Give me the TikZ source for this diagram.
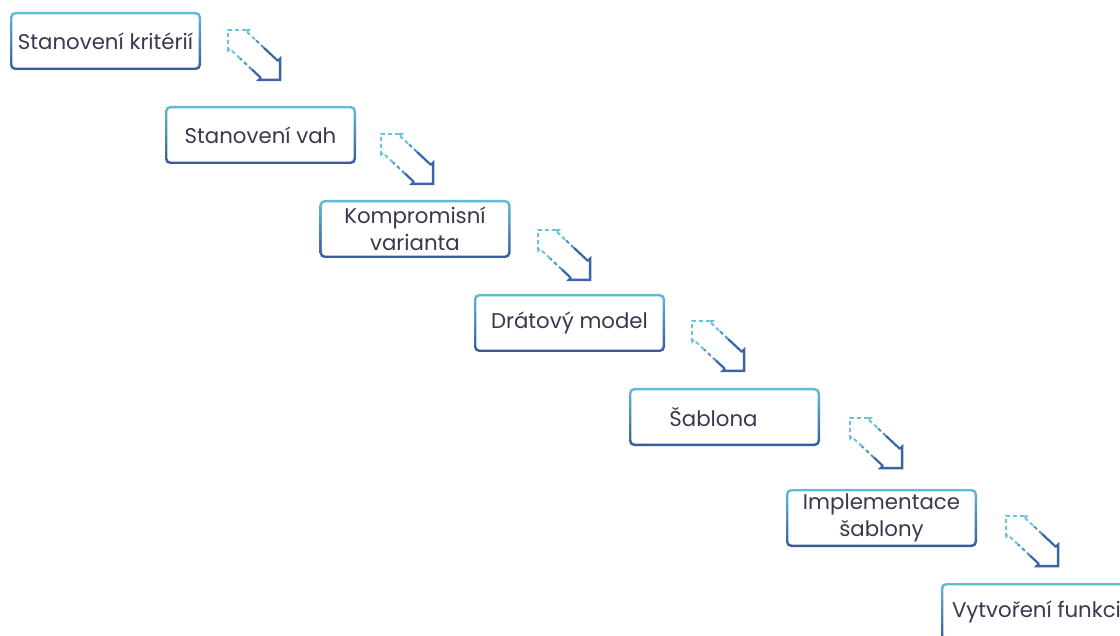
\documentclass[tikz,border=0pt]{standalone}
\usepackage{fontspec}
\setmainfont{Poppins}
\usetikzlibrary{calc}

\definecolor{edgetop}{HTML}{5EBED4}
\definecolor{edgebot}{HTML}{39599C}
\definecolor{labelcol}{HTML}{3A3850}
\definecolor{arrlight}{HTML}{6CC4D9}
\definecolor{arrmid}{HTML}{4E95C4}
\definecolor{arrdark}{HTML}{3B63A8}

\tikzset{
  stepbox/.style={
    minimum width=191pt, minimum height=58pt, inner sep=0pt,
    rounded corners=5pt, align=center, text=labelcol,
    font=\fontsize{21.3}{27}\selectfont,
    path picture={
      \shade[top color=edgetop, bottom color=edgebot]
        (path picture bounding box.south west) rectangle (path picture bounding box.north east);
      \fill[white, rounded corners=3.5pt]
        ([shift={(2.4pt,2.4pt)}]path picture bounding box.south west) rectangle
        ([shift={(-2.4pt,-2.4pt)}]path picture bounding box.north east);
    }
  },
  arrline/.style={line width=2.2pt, line cap=butt, line join=miter},
  arrdash/.style={arrline, line width=2pt, dash pattern=on 4pt off 3pt},
  flowarrow/.pic={
    % tail end (faded, dashed)
    \draw[arrdash, arrlight] (0,21) -- (0,0) -- (21,0);
    \draw[arrline, arrlight, line width=1.5pt] (18,0) -- (21,0) -- (19,2);
    \draw[arrline, arrlight, line width=1.5pt] (0,18) -- (0,21) -- (2,19);
    % upper side of the shaft
    \draw[arrdash, arrlight] (19,2) -- (28,10.4);
    \draw[arrdash, arrmid] (28,10.4) -- (36,17.9);
    \draw[arrline, arrdark] (36,17.9) -- (50,31);
    % head with short barbs
    \draw[arrline, arrdark, line width=2.5pt] (50,31) -- (52,29) -- (52,50) -- (31,50) -- (33,48);
    % lower side of the shaft
    \draw[arrline, arrdark] (33,48) -- (24,39.6);
    \draw[arrdash, arrmid] (24,39.6) -- (12,28.4);
    \draw[arrdash, arrlight] (12,28.4) -- (2,19);
  }
}

\begin{document}
\begin{tikzpicture}[x=1pt, y=-1pt]
  \useasboundingbox (0,0) rectangle (1120,636);
  \clip (0,0) rectangle (1120,636);

  % process steps
  \node[stepbox] (s1) at (105.5,41)  {Stanovení kritérií};
  \node[stepbox] (s2) at (260.5,135) {Stanovení vah};
  \node[stepbox] (s3) at (415,229)   {Kompromisní\\varianta};
  \node[stepbox] (s4) at (569.5,323) {Drátový model};
  \node[stepbox] (s5) at (724.5,417) {\hspace*{-22pt}Šablona};
  \node[stepbox] (s6) at (881.5,518) {Implementace\\šablony};
  \node[stepbox] (s7) at (1036.5,612){Vytvoření funkci};

  % transition arrows between consecutive steps
  \pic at (228,30)  {flowarrow};
  \pic at (381,134) {flowarrow};
  \pic at (538,230) {flowarrow};
  \pic at (692,321) {flowarrow};
  \pic at (850,418) {flowarrow};
  \pic at (1006,516){flowarrow};
\end{tikzpicture}
\end{document}
